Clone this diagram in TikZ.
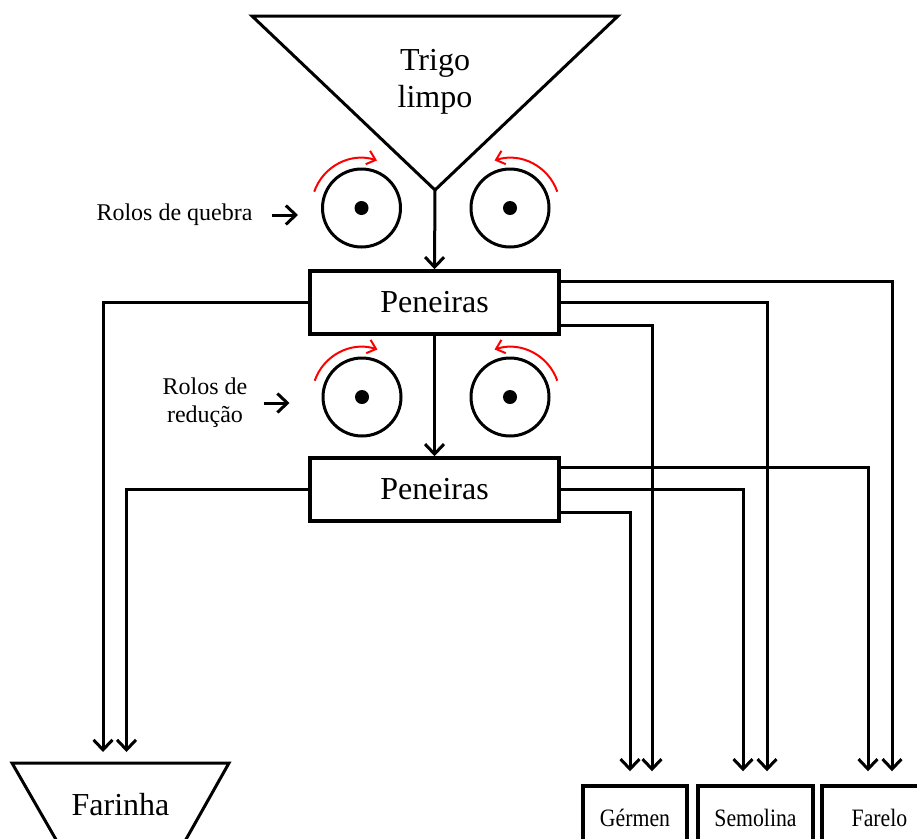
\documentclass[tikz,border=0pt]{standalone}
\usepackage{fontspec}
\setmainfont{Liberation Serif}
\newfontfamily\narrowserif[FakeStretch=0.87]{Liberation Serif}
\usetikzlibrary{positioning, arrows.meta, calc}
\definecolor{clrline}{HTML}{000000}
\definecolor{clrspin}{HTML}{FF0000}

\begin{document}
\begin{tikzpicture}[
    x=1pt, y=1pt,
    >={Straight Barb[length=10pt, width=19pt]},
    block/.style={draw=clrline, line width=3.5pt, rectangle, inner sep=0pt},
    roller/.style={draw=clrline, circle, line width=3pt, minimum size=78pt, inner sep=0pt},
    arrow/.style={->, color=clrline, line width=3pt},
    spin/.style={-{Straight Barb[length=8pt, width=14pt]}, color=clrspin, line width=2pt},
    bigtext/.style={font=\fontsize{32}{37}\selectfont, align=center},
    smalltext/.style={font=\fontsize{24}{28}\selectfont, align=center, inner sep=0pt},
    boxtext/.style={font=\narrowserif\fontsize{25}{29}\selectfont, align=center, inner sep=0pt},
]
\useasboundingbox (0,0) rectangle (917,-838);
\coordinate (n_apex) at (435,-190);
\draw[line width=3pt, line join=miter] (252,-16) -- (618,-16) -- (n_apex) -- cycle;
\node[bigtext] (n_trigo) at (435,-82) {Trigo\\limpo};
\node[block, minimum width=249pt, minimum height=63pt, bigtext] (n_pen_1) at (434.5,-302.5) {Peneiras};
\node[block, minimum width=249pt, minimum height=63pt, bigtext] (n_pen_2) at (434.5,-489.5) {Peneiras};
\node[roller] (n_rq_1) at (361.5,-208) {};
\node[roller] (n_rq_2) at (510,-208) {};
\node[roller] (n_rr_1) at (362,-397) {};
\node[roller] (n_rr_2) at (510,-397) {};
\foreach \r in {n_rq_1, n_rq_2, n_rr_1, n_rr_2}
    \fill[clrline] (\r.center) circle (7pt);
\draw[spin] ([shift={(161:50)}]n_rq_1.center) arc[start angle=161, end angle=72, radius=50];
\draw[spin] ([shift={(19:50)}]n_rq_2.center) arc[start angle=19, end angle=108, radius=50];
\draw[spin] ([shift={(161:50)}]n_rr_1.center) arc[start angle=161, end angle=72, radius=50];
\draw[spin] ([shift={(19:50)}]n_rr_2.center) arc[start angle=19, end angle=108, radius=50];
\node[smalltext] (n_lbl_q) at (174.5,-215) {Rolos de quebra};
\node[smalltext] (n_lbl_r) at (205,-403) {Rolos de\\redução};
\draw[arrow, shorten <=19pt, shorten >=23pt] (n_lbl_q.east) -- (n_lbl_q.east -| n_rq_1.west);
\draw[arrow, shorten <=16pt, shorten >=32pt] (n_lbl_r.east) -- (n_lbl_r.east -| n_rr_1.west);
\coordinate (n_farinha_top) at (120.5,-763);
\draw[line width=3pt, line join=miter] (12,-763) -- (229,-763) -- (180,-850) -- (62,-850) -- cycle;
\node[bigtext] (n_farinha) at (120.5,-805) {Farinha};
\node[block, minimum width=104pt, minimum height=64pt, boxtext] (n_germen) at (635,-818) {Gérmen};
\node[block, minimum width=115pt, minimum height=64pt, boxtext] (n_semolina) at (755.5,-818) {Semolina};
\node[block, minimum width=115pt, minimum height=64pt, boxtext] (n_farelo) at (879.5,-818) {Farelo};
\draw[arrow] (n_apex) -- (n_pen_1.north);
\draw[arrow] (n_pen_1.south) -- (n_pen_2.north);
\draw[arrow] (n_pen_1.west) -| ([xshift=-17.5pt, yshift=11pt]n_farinha_top);
\draw[arrow] (n_pen_2.west) -| ([xshift=6pt, yshift=11pt]n_farinha_top);
\draw[arrow] ([yshift=21.5pt]n_pen_1.east) -| ([xshift=12.5pt, yshift=13pt]n_farelo.north);
\draw[arrow] (n_pen_1.east) -| ([xshift=11.5pt, yshift=13pt]n_semolina.north);
\draw[arrow] ([yshift=-22.5pt]n_pen_1.east) -| ([xshift=17pt, yshift=13pt]n_germen.north);
\draw[arrow] ([yshift=22.5pt]n_pen_2.east) -| ([xshift=-11.5pt, yshift=13pt]n_farelo.north);
\draw[arrow] (n_pen_2.east) -| ([xshift=-12.5pt, yshift=13pt]n_semolina.north);
\draw[arrow] ([yshift=-22.5pt]n_pen_2.east) -| ([xshift=-5pt, yshift=13pt]n_germen.north);
\end{tikzpicture}
\end{document}
